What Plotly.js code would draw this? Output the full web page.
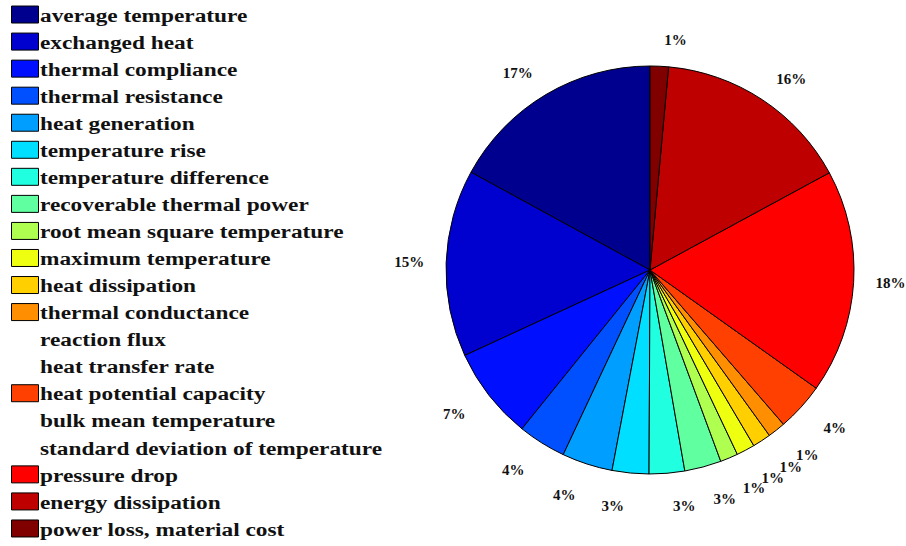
<!DOCTYPE html>
<html>
<head>
<meta charset="utf-8">
<script src="https://cdn.plot.ly/plotly-3.0.1.min.js"></script>
<style>html,body{margin:0;padding:0;background:#fff;}#chart{width:906px;height:546px;}</style>
</head>
<body>
<div id="chart"></div>
<script>
var labels = [
  "average temperature", "exchanged heat", "thermal compliance", "thermal resistance",
  "heat generation", "temperature rise", "temperature difference", "recoverable thermal power",
  "root mean square temperature", "maximum temperature", "heat dissipation", "thermal conductance",
  "reaction flux", "heat transfer rate", "heat potential capacity", "bulk mean temperature",
  "standard deviation of temperature", "pressure drop", "energy dissipation", "power loss, material cost"
];
// shares (%)
var shares = [17.0, 14.8, 7.3, 3.8, 4.0, 2.9, 2.8, 2.9, 1.4, 1.45, 1.45, 1.4, 0, 0, 3.8, 0, 0, 17.7, 15.6, 1.45];
var sliceColors = [
  "#00008F", "#0000CF", "#0010FF", "#0050FF", "#009FFF", "#00DFFF", "#20FFDF", "#60FF9F",
  "#AFFF50", "#EFFF10", "#FFCF00", "#FF8F00", "rgba(0,0,0,0)", "rgba(0,0,0,0)", "#FF4000",
  "rgba(0,0,0,0)", "rgba(0,0,0,0)", "#FF0000", "#BF0000", "#800000"
];
// which label layer each percentage goes on (keeps crowded small labels from being pushed apart)
var labelLayer = [0, 0, 1, 2, 1, 2, 1, 2, 4, 3, 1, 2, 0, 0, 1, 0, 0, 0, 0, 0];

var total = shares.reduce(function (a, b) { return a + b; }, 0);
var pctText = shares.map(function (v) { return v > 0 ? Math.round(v / total * 100) + "%" : ""; });
var lineColors = shares.map(function (v) { return v > 0 ? "#000" : "rgba(0,0,0,0)"; });
// first slice starts at 12 o'clock and runs counter-clockwise
var startRot = -shares[0] / total * 360;

var W = 906, H = 546;
var cx = 650, cy = 270, R = 204;
var layerRadius = [222, 229, 229, 229, 229];
function dom(r) {
  return { x: [(cx - r) / W, (cx + r) / W], y: [1 - (cy + r) / H, 1 - (cy - r) / H] };
}

var serif = "Liberation Serif, Times New Roman, serif";

var pie = {
  type: "pie",
  labels: labels,
  values: shares,
  sort: false,
  direction: "counterclockwise",
  rotation: startRot,
  domain: dom(R),
  marker: { colors: sliceColors, line: { color: lineColors, width: 1 } },
  textinfo: "none",
  hoverinfo: "label+percent",
  showlegend: true
};

function labelTrace(layer) {
  return {
    type: "pie",
    labels: labels,
    values: shares,
    sort: false,
    direction: "counterclockwise",
    rotation: startRot,
    domain: dom(layerRadius[layer]),
    marker: { colors: labels.map(function () { return "rgba(0,0,0,0)"; }), line: { width: 0 } },
    text: pctText.map(function (t, i) { return labelLayer[i] === layer ? t : ""; }),
    textinfo: "text",
    textposition: "outside",
    outsidetextfont: { family: serif, size: 15, color: "#111", weight: 700 },
    hoverinfo: "skip",
    showlegend: false
  };
}

var layout = {
  width: W,
  height: H,
  margin: { l: 0, r: 0, t: 0, b: 0 },
  paper_bgcolor: "#fff",
  showlegend: true,
  legend: {
    x: 0.0,
    xanchor: "left",
    y: 1.0,
    yanchor: "top",
    bgcolor: "rgba(0,0,0,0)",
    borderwidth: 0,
    font: { family: serif, size: 18.5, color: "#111", weight: 700 },
    itemclick: false,
    itemdoubleclick: false
  }
};

var traces = [labelTrace(0), labelTrace(1), labelTrace(2), labelTrace(3), labelTrace(4), pie];

Plotly.newPlot("chart", traces, layout, { displayModeBar: false, staticPlot: true }).then(function (gd) {
  gd.querySelectorAll(".legend [clip-path]").forEach(function (e) { e.removeAttribute("clip-path"); });
  gd.querySelectorAll(".legend g.traces").forEach(function (g) {
    var m = /translate\(\s*([-\d.e]+)[ ,]+([-\d.e]+)\s*\)/.exec(g.getAttribute("transform") || "");
    if (m) g.setAttribute("transform", "translate(" + (+m[1]) + "," + (+m[2] - 4) + ")");
  });
  gd.querySelectorAll(".legend .legendpoints path.legendpie").forEach(function (p) {
    p.setAttribute("d", "M13.5,8.5H-13.5V-8.5H13.5Z");
    p.setAttribute("transform", "translate(25,0)");
  });
  gd.querySelectorAll(".legend text.legendtext").forEach(function (t) {
    var len = t.getComputedTextLength();
    t.setAttribute("textLength", (len * 1.26).toFixed(1));
    t.setAttribute("lengthAdjust", "spacingAndGlyphs");
  });
  gd.querySelectorAll("path.textline").forEach(function (p) { p.style.display = "none"; });
});
</script>
</body>
</html>
